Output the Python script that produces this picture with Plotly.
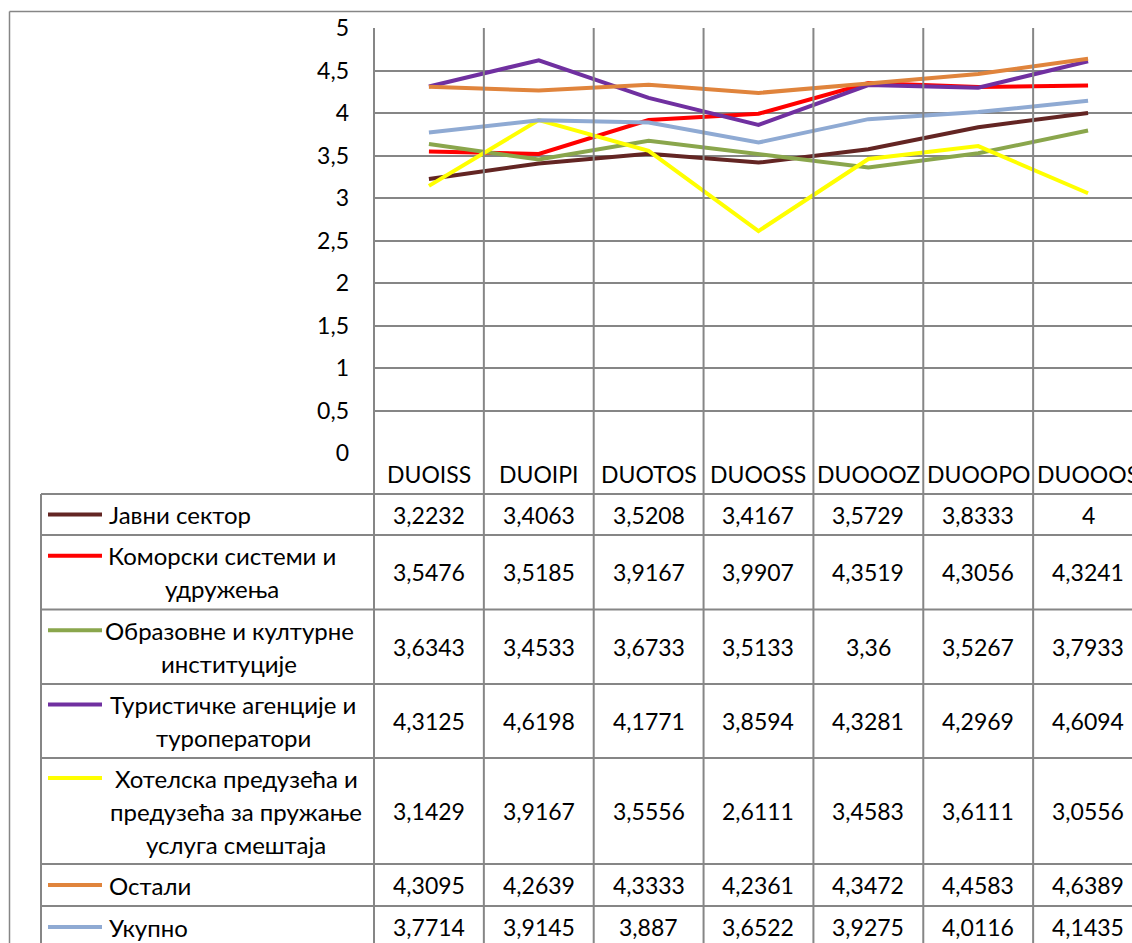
import plotly.graph_objects as go

# ---- data -------------------------------------------------------------
categories = ["DUOISS", "DUOIPI", "DUOTOS", "DUOOSS", "DUOOOZ", "DUOOPO", "DUOOOS"]

series_names = [
    "Јавни сектор",
    "Коморски системи и удружења",
    "Образовне и културне институције",
    "Туристичке агенције и туроператори",
    "Хотелска предузећа и предузећа за пружање услуга смештаја",
    "Остали",
    "Укупно",
]

javni_sektor = [3.2232, 3.4063, 3.5208, 3.4167, 3.5729, 3.8333, 4]
komorski = [3.5476, 3.5185, 3.9167, 3.9907, 4.3519, 4.3056, 4.3241]
obrazovne = [3.6343, 3.4533, 3.6733, 3.5133, 3.36, 3.5267, 3.7933]
turisticke = [4.3125, 4.6198, 4.1771, 3.8594, 4.3281, 4.2969, 4.6094]
hotelska = [3.1429, 3.9167, 3.5556, 2.6111, 3.4583, 3.6111, 3.0556]
ostali = [4.3095, 4.2639, 4.3333, 4.2361, 4.3472, 4.4583, 4.6389]
ukupno = [3.7714, 3.9145, 3.887, 3.6522, 3.9275, 4.0116, 4.1435]

y_ticks = [0, 0.5, 1, 1.5, 2, 2.5, 3, 3.5, 4, 4.5, 5]

# ---- styling ------------------------------------------------------------
series_values = [javni_sektor, komorski, obrazovne, turisticke, hotelska, ostali, ukupno]
colors = ["#632523", "#FF0000", "#8AA64C", "#7030A0", "#FFFF00", "#E0843C", "#8FAAD3"]

# label lines shown in the table's first column
label_lines = [
    ["Јавни сектор"],
    ["Коморски системи и", "удружења"],
    ["Образовне и културне", "институције"],
    ["Туристичке агенције и", "туроператори"],
    ["Хотелска предузећа и", "предузећа за пружање", "услуга смештаја"],
    ["Остали"],
    ["Укупно"],
]

W, H = 1132, 943
L, R, T, B = 374, 1132, 28, 453          # plot area in pixels
X0, X1 = -0.5, 6.40                      # category axis range
GRID = "#868686"
FONT = "Lato"
FS = 23          # numbers, headers, tick labels
FS_LABEL = 24    # series names in the table

def fx(px):
    return (px - L) / (R - L)

def fy(py):
    return (B - py) / (B - T)

def xval_to_paper(v):
    return (v - X0) / (X1 - X0)

# table row boundaries (pixels)
row_edges = [494, 535, 609.5, 684, 758, 864, 906, 948]
line_gap = 33

fig = go.Figure()
xs = list(range(len(categories)))
for name, vals, col in zip(series_names, series_values, colors):
    fig.add_trace(go.Scatter(
        x=xs, y=vals, mode="lines", name=name,
        line=dict(color=col, width=4),
        showlegend=False, hoverinfo="skip",
    ))

shapes = []
annotations = []

def hline(py, x_from, x_to):
    shapes.append(dict(type="line", xref="paper", yref="paper",
                       x0=fx(x_from), x1=fx(x_to), y0=fy(py), y1=fy(py),
                       line=dict(color=GRID, width=2)))

def vline(px_paper, y_from, y_to):
    shapes.append(dict(type="line", xref="paper", yref="paper",
                       x0=px_paper, x1=px_paper, y0=fy(y_from), y1=fy(y_to),
                       line=dict(color=GRID, width=2)))

# outer chart border
shapes.append(dict(type="line", xref="paper", yref="paper",
                   x0=fx(9.5), x1=fx(9.5), y0=fy(11.5), y1=fy(H + 5),
                   line=dict(color=GRID, width=1.5)))
shapes.append(dict(type="line", xref="paper", yref="paper",
                   x0=fx(9.5), x1=fx(W + 5), y0=fy(11.5), y1=fy(11.5),
                   line=dict(color=GRID, width=1.5)))

# column separators running through the plot and the data table
for i in range(len(categories)):
    vline(xval_to_paper(i - 0.5), T, H + 5)
# left edge of the data table
vline(fx(41), row_edges[0], H + 5)
# horizontal table rules
for py in row_edges[:-1]:
    hline(py, 41, W + 5)

# category header row
for i, c in enumerate(categories):
    annotations.append(dict(xref="x", yref="paper", x=i, y=fy((B + row_edges[0]) / 2),
                            text=c, showarrow=False, xanchor="center", yanchor="middle",
                            font=dict(family=FONT, size=FS, color="black")))

# label column centers for multi-line labels
label_centers = [None, 222, 229, 233, 236, None, None]

for r, (vals, col, lines) in enumerate(zip(series_values, colors, label_lines)):
    top, bot = row_edges[r], row_edges[r + 1]
    mid = (top + bot) / 2
    n = len(lines)
    first_y = mid - (n - 1) / 2 * line_gap
    # legend key
    shapes.append(dict(type="line", xref="paper", yref="paper",
                       x0=fx(48), x1=fx(102), y0=fy(first_y), y1=fy(first_y),
                       line=dict(color=col, width=4)))
    for k, txt in enumerate(lines):
        yy = first_y + k * line_gap
        if n == 1:
            annotations.append(dict(xref="paper", yref="paper", x=fx(107), y=fy(yy),
                                    text=txt, showarrow=False, xanchor="left", yanchor="middle",
                                    font=dict(family=FONT, size=FS_LABEL, color="black")))
        else:
            annotations.append(dict(xref="paper", yref="paper", x=fx(label_centers[r]), y=fy(yy),
                                    text=txt, showarrow=False, xanchor="center", yanchor="middle",
                                    font=dict(family=FONT, size=FS_LABEL, color="black")))
    # values
    for i, v in enumerate(vals):
        annotations.append(dict(xref="x", yref="paper", x=i, y=fy(mid),
                                text=f"{v:g}".replace(".", ","), showarrow=False,
                                xanchor="center", yanchor="middle",
                                font=dict(family=FONT, size=FS, color="black")))

fig.update_layout(
    width=W, height=H,
    margin=dict(l=L, r=W - R, t=T, b=H - B, pad=0),
    paper_bgcolor="white", plot_bgcolor="white",
    separators=", ",
    font=dict(family=FONT, size=FS, color="black"),
    shapes=shapes, annotations=annotations,
    xaxis=dict(range=[X0, X1], showgrid=False, zeroline=False,
               showticklabels=False, ticks="", fixedrange=True),
    yaxis=dict(range=[0, 5], tickvals=y_ticks, showgrid=True, gridcolor=GRID,
               gridwidth=2, zeroline=False, showline=False, ticks="",
               ticklabelstandoff=24,
               tickfont=dict(family=FONT, size=FS, color="black"), fixedrange=True),
)

fig.write_html("out.html", config={"displayModeBar": False})
